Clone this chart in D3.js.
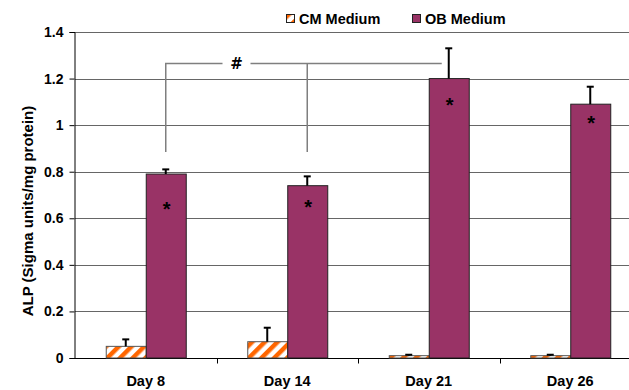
<!DOCTYPE html>
<html>
<head>
<meta charset="utf-8">
<script src="https://cdn.jsdelivr.net/npm/d3@7"></script>
<style>
  html, body { margin: 0; padding: 0; background: #fff; }
  svg { display: block; font-family: Arial, "Liberation Sans", sans-serif; }
</style>
</head>
<body>
<svg id="chart" width="629" height="390"></svg>
<script>
// Alkaline phosphatase activity per time point
const days = ["Day 8", "Day 14", "Day 21", "Day 26"];
const series = ["CM Medium", "OB Medium"];
const cmValues = [0.05, 0.07, 0.01, 0.01];
const cmErrors = [0.03, 0.06, 0.004, 0.004];
const obValues = [0.79, 0.74, 1.20, 1.09];
const obErrors = [0.02, 0.04, 0.13, 0.075];
const starLevels = [0.655, 0.665, 1.105, 1.025];
const yTicks = [0, 0.2, 0.4, 0.6, 0.8, 1, 1.2, 1.4];
const yLabel = "ALP (Sigma units/mg protein)";

const svg = d3.select("#chart");
const plot = { left: 75, right: 641, top: 32, bottom: 358 };
const colors = { "CM Medium": "#ff6600", "OB Medium": "#993366" };

const x = d3.scaleBand().domain(days).range([plot.left, plot.right]).padding(0);
const barW = 40;
const x1 = d3.scaleBand().domain(series).range([0, barW * 2]).padding(0);
const y = d3.scaleLinear().domain([0, 1.4]).range([plot.bottom, plot.top]);

// Diagonal hatch for the CM bars
const defs = svg.append("defs");
const pat = defs.append("pattern")
  .attr("id", "hatch").attr("patternUnits", "userSpaceOnUse")
  .attr("width", 9).attr("height", 9)
  .attr("patternTransform", "rotate(45)");
pat.append("rect").attr("width", 9).attr("height", 9).attr("fill", "#fff");
pat.append("rect").attr("x", 0).attr("width", 4.5).attr("height", 9).attr("fill", colors["CM Medium"]);

// Gridlines
svg.append("g").selectAll("line").data(yTicks.filter(d => d > 0)).join("line")
  .attr("x1", plot.left).attr("x2", plot.right)
  .attr("y1", d => Math.round(y(d)) + 0.5).attr("y2", d => Math.round(y(d)) + 0.5)
  .attr("stroke", "#666").attr("stroke-width", 1);

// Y axis
const yAxis = svg.append("g")
  .attr("transform", `translate(${plot.left - 0.5},0)`)
  .call(d3.axisLeft(y).tickValues(yTicks).tickSize(5).tickPadding(6)
    .tickFormat(d => d3.format("")(+d.toFixed(1))));
yAxis.select(".domain").attr("stroke", "#000");
yAxis.selectAll(".tick line").attr("stroke", "#000");
yAxis.selectAll(".tick text")
  .attr("font-size", 14).attr("font-weight", "bold").attr("fill", "#000")
  .attr("font-family", "Arial, 'Liberation Sans', sans-serif");

// X axis
const xAxisG = svg.append("g").attr("transform", `translate(0,${plot.bottom + 0.5})`);
xAxisG.append("line").attr("x1", plot.left).attr("x2", plot.right).attr("stroke", "#000");
xAxisG.selectAll(".sep").data(days.slice(1)).join("line")
  .attr("class", "sep")
  .attr("x1", d => Math.round(x(d)) + 0.5).attr("x2", d => Math.round(x(d)) + 0.5)
  .attr("y1", 0).attr("y2", 5).attr("stroke", "#000");
xAxisG.selectAll("text").data(days).join("text")
  .attr("x", d => x(d) + x.bandwidth() / 2).attr("y", 27)
  .attr("text-anchor", "middle").attr("font-size", 14.5).attr("font-weight", "bold")
  .text(d => d);

// Bars
const rows = days.map((d, i) => ({
  day: d,
  bars: [
    { s: "CM Medium", v: cmValues[i], e: cmErrors[i] },
    { s: "OB Medium", v: obValues[i], e: obErrors[i] }
  ],
  star: starLevels[i]
}));

const groups = svg.append("g").selectAll("g").data(rows).join("g")
  .attr("transform", d => `translate(${x(d.day) + (x.bandwidth() - barW * 2) / 2},0)`);

groups.selectAll("rect").data(d => d.bars).join("rect")
  .attr("x", d => x1(d.s) + 0.5)
  .attr("y", d => y(d.v))
  .attr("width", x1.bandwidth())
  .attr("height", d => y(0) - y(d.v))
  .attr("fill", d => d.s === "CM Medium" ? "url(#hatch)" : colors[d.s])
  .attr("stroke", d => d.s === "CM Medium" ? "#555" : "#222")
  .attr("stroke-width", 1);

// Error bars (upper only)
const err = groups.selectAll("g.err").data(d => d.bars).join("g").attr("class", "err");
err.append("line")
  .attr("x1", d => x1(d.s) + x1.bandwidth() / 2).attr("x2", d => x1(d.s) + x1.bandwidth() / 2)
  .attr("y1", d => y(d.v)).attr("y2", d => y(d.v + d.e))
  .attr("stroke", "#000").attr("stroke-width", 2);
err.append("line")
  .attr("x1", d => x1(d.s) + x1.bandwidth() / 2 - 3.5).attr("x2", d => x1(d.s) + x1.bandwidth() / 2 + 3.5)
  .attr("y1", d => y(d.v + d.e)).attr("y2", d => y(d.v + d.e))
  .attr("stroke", "#000").attr("stroke-width", 2);

// Significance asterisks inside the OB bars
groups.append("text")
  .attr("x", x1("OB Medium") + x1.bandwidth() / 2 + 1)
  .attr("y", d => y(d.star) + 11)
  .attr("text-anchor", "middle").attr("font-size", 20).attr("font-weight", "bold")
  .attr("fill", "#000").text("*");

// Bracket between Day 8 and Day 14 OB bars, extended toward Day 21
const obCenter = d => x(d) + (x.bandwidth() - barW * 2) / 2 + x1("OB Medium") + x1.bandwidth() / 2;
const bLevel = y(1.265), bFoot = y(0.885);
const xa = obCenter("Day 8"), xb = obCenter("Day 14"), xc = obCenter("Day 21") - 7;
const xm = (xa + xb) / 2;
const br = svg.append("g").attr("stroke", "#7f7f7f").attr("stroke-width", 1.5).attr("fill", "none");
br.append("path").attr("d", `M${xa},${bFoot}V${bLevel}H${xm - 14}`);
br.append("path").attr("d", `M${xm + 14},${bLevel}H${xc}`);
br.append("path").attr("d", `M${xb},${bLevel}V${bFoot}`);
svg.append("text").attr("x", xm).attr("y", bLevel + 6)
  .attr("text-anchor", "middle").attr("font-size", 15).attr("font-weight", "bold")
  .attr("font-family", "'DejaVu Sans', sans-serif")
  .text("#");

// Y axis title
svg.append("text")
  .attr("transform", `translate(33,${(plot.top + plot.bottom) / 2 + 16}) rotate(-90)`)
  .attr("text-anchor", "middle").attr("font-size", 15).attr("font-weight", "bold")
  .text(yLabel);

// Legend
const legendItems = [
  { s: "CM Medium", x: 286 },
  { s: "OB Medium", x: 412 }
];
const lg = svg.append("g").selectAll("g").data(legendItems).join("g")
  .attr("transform", d => `translate(${d.x},14)`);
lg.append("rect").attr("x", 0.5).attr("y", 0.5).attr("width", 8).attr("height", 8)
  .attr("fill", d => d.s === "CM Medium" ? "url(#hatch)" : colors[d.s])
  .attr("stroke", "#222").attr("stroke-width", 1);
lg.append("text").attr("x", 13).attr("y", 10)
  .attr("font-size", 14.5).attr("font-weight", "bold").text(d => d.s);
</script>
</body>
</html>
